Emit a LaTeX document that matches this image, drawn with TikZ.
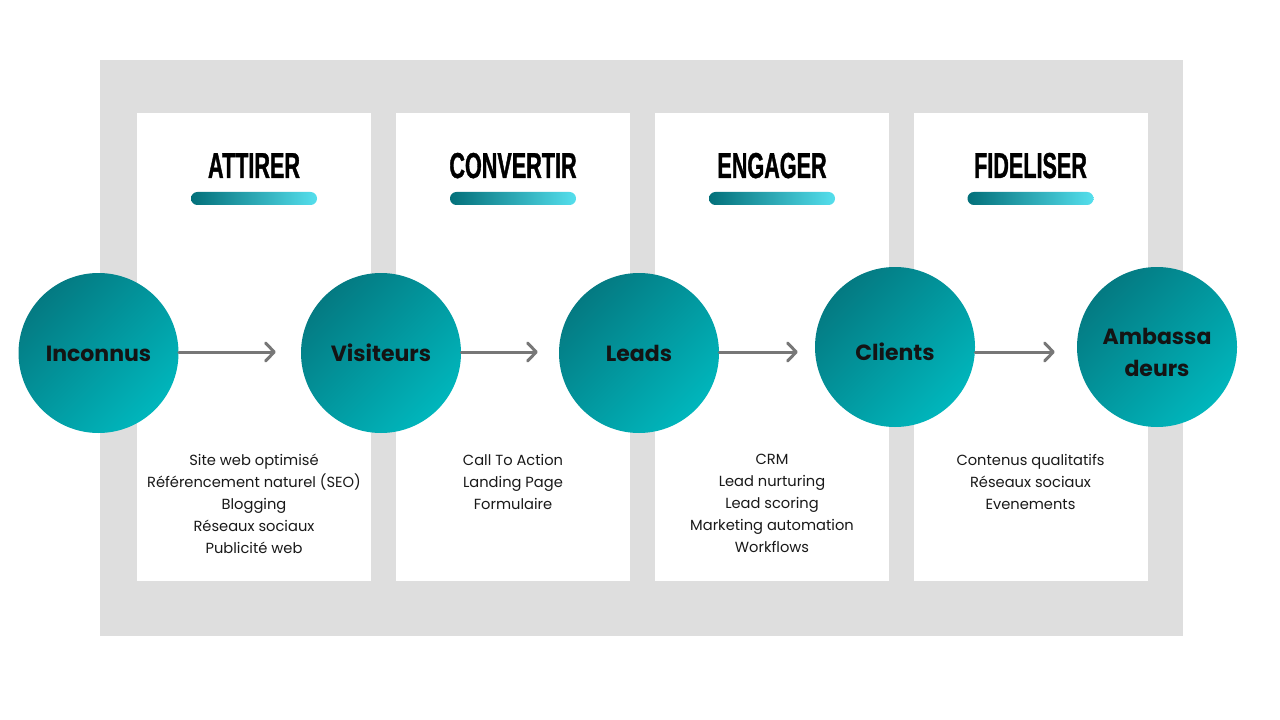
\documentclass[tikz,border=0pt]{standalone}
\usepackage{fontspec}
\setmainfont{Poppins}
\newfontfamily\titlefont[FakeStretch=0.6,FakeBold=1]{Liberation Sans Bold}
\usetikzlibrary{arrows.meta}
\definecolor{tealdark}{HTML}{047A82}
\definecolor{teallight}{HTML}{00B6BC}
\definecolor{bardark}{HTML}{03707A}
\definecolor{barlight}{HTML}{55DFED}
\definecolor{framegray}{HTML}{DEDEDE}
\definecolor{arrowgray}{HTML}{777777}
\newcommand{\lowered}[2][5.5pt]{\raisebox{-#1}[\height][\depth]{\begin{tabular}{@{}c@{}}#2\end{tabular}}}
\begin{document}
\begin{tikzpicture}[x=0.75pt,y=-0.75pt,
  stage/.style={circle,minimum size=120pt,inner sep=0pt,top color=tealdark,bottom color=teallight,
    shading angle=45,font=\bfseries\fontsize{16.5}{24}\selectfont,text=black!92,align=center},
  phase/.style={anchor=base,font=\titlefont\fontsize{27}{30}\selectfont},
  tools/.style={anchor=north,inner sep=0pt,align=center,font=\fontsize{11}{16.5}\selectfont,text=black!90},
  bar/.style={rounded corners=4.8pt,left color=bardark,right color=barlight},
  flow/.style={-{Straight Barb[length=6.5pt,width=13.5pt,round]},line width=2.25pt,draw=arrowgray,line cap=round}]
\useasboundingbox (0,0) rectangle (1280,720);
\fill[white] (0,0) rectangle (1280,720);
\fill[framegray] (100,60) rectangle (1183,636);
% white columns, titles and bars
\foreach \c/\t in {254/ATTIRER,513/CONVERTIR,772/ENGAGER,1030.5/FIDELISER}{
  \fill[white] (\c-117,113) rectangle (\c+117,581);
  \node[phase] (t\t) at (\c,178) {\t};
  \shade[bar] (\c-63,192) rectangle (\c+63,205);
}
% stages
\node[stage] (inc) at (98.5,353) {\lowered[1.5pt]{Inconnus}};
\node[stage] (vis) at (381,353) {Visiteurs};
\node[stage] (led) at (639,353) {Leads};
\node[stage] (cli) at (895,347) {\lowered{Clients}};
\node[stage] (amb) at (1157,347) {\lowered{Ambassa\\deurs}};
% arrows
\coordinate (axis) at (0,352);
\foreach \a/\b/\s in {inc/vis/25,vis/led/21,led/cli/17,cli/amb/22}
  \draw[flow,shorten >=\s*0.75pt] (\a.east |- axis) -- (\b.west |- axis);
% tools
\node[tools] (lstA) at (254,454) {Site web optimisé\\Référencement naturel (SEO)\\Blogging\\Réseaux sociaux\\Publicité web};
\node[tools] (lstB) at (513,454) {Call To Action\\Landing Page\\Formulaire};
\node[tools] (lstC) at (772,454) {CRM\\Lead nurturing\\Lead scoring\\Marketing automation\\Workflows};
\node[tools] (lstD) at (1030.5,454) {Contenus qualitatifs\\Réseaux sociaux\\Evenements};
\end{tikzpicture}
\end{document}
